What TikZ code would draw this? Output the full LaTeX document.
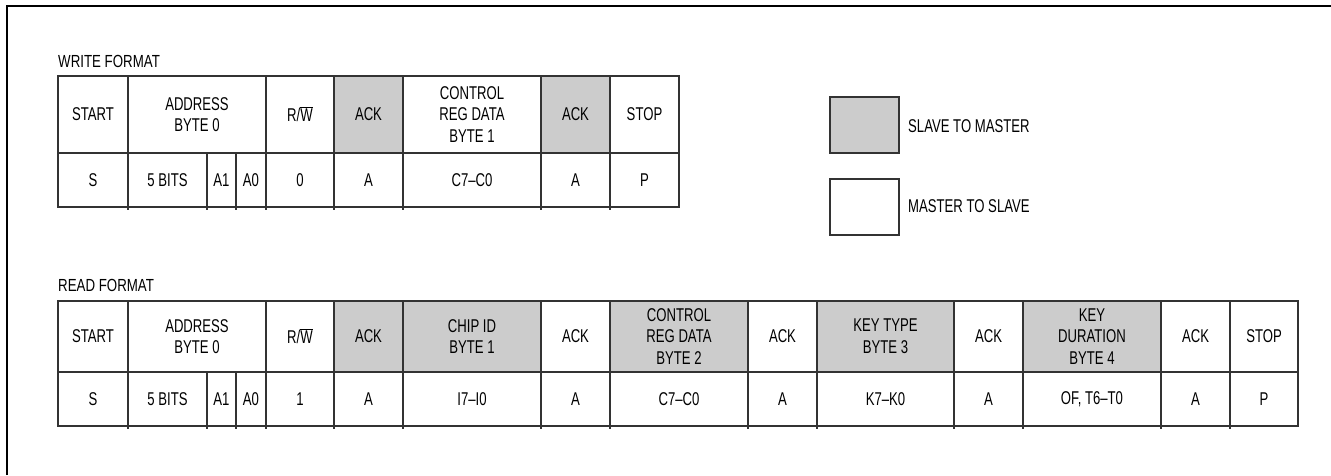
\documentclass[tikz,border=0pt]{standalone}
\usepackage{fontspec}
\setmainfont[FakeStretch=0.71]{Liberation Sans}
\newfontfamily\titlefont[FakeStretch=0.76]{Liberation Sans}
\definecolor{slavegray}{HTML}{CCCCCC}
\definecolor{linegray}{HTML}{333333}
\begin{document}
\begin{tikzpicture}[x=1pt,y=-1pt,
  cell/.style={draw=linegray, line width=1.3pt, inner sep=0pt, align=center,
    font=\fontsize{18.5}{21.7}\selectfont, minimum width=#1},
  cell/.default=69,
  hdrW/.style={minimum height=77},
  hdrR/.style={minimum height=71},
  dat/.style={minimum height=54},
  s2m/.style={fill=slavegray},
  title/.style={anchor=west, inner sep=0pt, font=\titlefont\fontsize{17.5}{20}\selectfont},
  legtext/.style={anchor=west, inner sep=0pt, font=\fontsize{18.5}{21}\selectfont},
  tick/.style={draw=linegray, line width=1.3pt}]
\useasboundingbox (0,0) rectangle (1331,475);
\draw[line width=2pt, black] (7,475) -- (7,6) -- (1331,6);

% WRITE FORMAT
\node[title] (wt) at (58,61) {WRITE FORMAT};
\node[cell=70, hdrW] (wh1) at (93,114.5) {START};
\node[cell=138, hdrW] (wh2) at (197,114.5) {\fontsize{18.5}{18.5}\selectfont ADDRESS\\BYTE 0};
\node[cell=68, hdrW] (wh3) at (300,114.5) {R/$\overline{\mbox{W}}$};
\node[cell, hdrW, s2m] (wh4) at (368.5,114.5) {ACK};
\node[cell=138, hdrW] (wh5) at (472,114.5) {CONTROL\\REG DATA\\BYTE 1};
\node[cell, hdrW, s2m] (wh6) at (575.5,114.5) {ACK};
\node[cell, hdrW] (wh7) at (644.5,114.5) {STOP};

\node[cell=70, dat] (wd1) at (93,180) {S};
\node[cell=79, dat] (wd2) at (167.5,180) {5 BITS};
\node[cell=29, dat] (wd3) at (221.5,180) {A1};
\node[cell=30, dat] (wd4) at (251,180) {A0};
\node[cell=68, dat] (wd5) at (300,180) {0};
\node[cell, dat] (wd6) at (368.5,180) {A};
\node[cell=138, dat] (wd7) at (472,180) {C7–C0};
\node[cell, dat] (wd8) at (575.5,180) {A};
\node[cell, dat] (wd9) at (644.5,180) {P};
\foreach \x in {128,207,236,266,334,403,541,610}
  \draw[tick] (\x,207) -- (\x,210);

% LEGEND
\node[cell, minimum height=56, s2m] (lg1) at (864.5,125) {};
\node[legtext] (lt1) at (908,126) {SLAVE TO MASTER};
\node[cell, minimum height=56] (lg2) at (864.5,207) {};
\node[legtext] (lt2) at (908,206) {MASTER TO SLAVE};

% READ FORMAT
\node[title] (rt) at (58,285.5) {READ FORMAT};
\node[cell=70, hdrR] (rh1) at (93,336.5) {START};
\node[cell=138, hdrR] (rh2) at (197,336.5) {\fontsize{18.5}{18.5}\selectfont ADDRESS\\BYTE 0};
\node[cell=68, hdrR] (rh3) at (300,336.5) {R/$\overline{\mbox{W}}$};
\node[cell, hdrR, s2m] (rh4) at (368.5,336.5) {ACK};
\node[cell=138, hdrR, s2m] (rh5) at (472,336.5) {CHIP ID\\BYTE 1};
\node[cell, hdrR] (rh6) at (575.5,336.5) {ACK};
\node[cell=138, hdrR, s2m] (rh7) at (679,336.5) {CONTROL\\REG DATA\\BYTE 2};
\node[cell, hdrR] (rh8) at (782.5,336.5) {ACK};
\node[cell=137, hdrR, s2m] (rh9) at (885.5,336.5) {KEY TYPE\\BYTE 3};
\node[cell, hdrR] (rh10) at (988.5,336.5) {ACK};
\node[cell=138, hdrR, s2m] (rh11) at (1092,336.5) {KEY\\DURATION\\BYTE 4};
\node[cell, hdrR] (rh12) at (1195.5,336.5) {ACK};
\node[cell=68, hdrR] (rh13) at (1264,336.5) {STOP};

\node[cell=70, dat] (rd1) at (93,399) {S};
\node[cell=79, dat] (rd2) at (167.5,399) {5 BITS};
\node[cell=29, dat] (rd3) at (221.5,399) {A1};
\node[cell=30, dat] (rd4) at (251,399) {A0};
\node[cell=68, dat] (rd5) at (300,399) {1};
\node[cell, dat] (rd6) at (368.5,399) {A};
\node[cell=138, dat] (rd7) at (472,399) {I7–I0};
\node[cell, dat] (rd8) at (575.5,399) {A};
\node[cell=138, dat] (rd9) at (679,399) {C7–C0};
\node[cell, dat] (rd10) at (782.5,399) {A};
\node[cell=137, dat] (rd11) at (885.5,399) {K7–K0};
\node[cell, dat] (rd12) at (988.5,399) {A};
\node[cell=138, dat] (rd13) at (1092,399) {OF, T6–T0};
\node[cell, dat] (rd14) at (1195.5,399) {A};
\node[cell=68, dat] (rd15) at (1264,399) {P};
\foreach \x in {128,207,236,266,334,403,541,610,748,817,954,1023,1161,1230}
  \draw[tick] (\x,426) -- (\x,429);
\end{tikzpicture}
\end{document}
